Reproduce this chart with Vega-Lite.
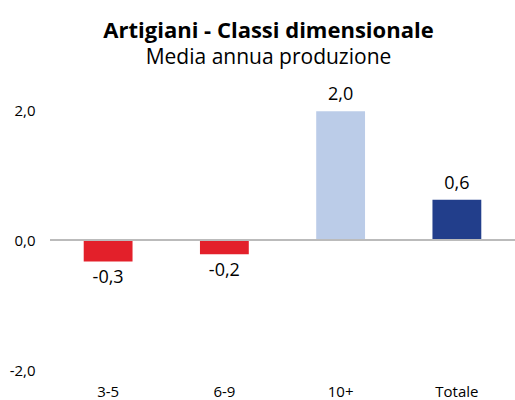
{
  "$schema": "https://vega.github.io/schema/vega-lite/v6.json",
  "width": 465,
  "height": 260,
  "autosize": {"type": "none"},
  "padding": {"left": 50, "top": 110, "right": 0, "bottom": 30},
  "background": "white",
  "config": {"view": {"stroke": null}},
  "title": {
    "text": "Artigiani - Classi dimensionale",
    "subtitle": "Media annua produzione",
    "anchor": "middle",
    "frame": "group",
    "dx": -14,
    "offset": 17,
    "font": "Open Sans",
    "fontSize": 22,
    "fontWeight": "bold",
    "color": "#000000",
    "subtitleFont": "Open Sans",
    "subtitleFontSize": 21,
    "subtitleColor": "#000000",
    "subtitlePadding": 4
  },
  "data": {
    "values": [
      {"classe": "3-5", "valore": -0.33, "label": "-0,3", "colore": "rosso"},
      {"classe": "6-9", "valore": -0.22, "label": "-0,2", "colore": "rosso"},
      {"classe": "10+", "valore": 1.98, "label": "2,0", "colore": "chiaro"},
      {"classe": "Totale", "valore": 0.62, "label": "0,6", "colore": "scuro"}
    ]
  },
  "encoding": {
    "x": {
      "field": "classe",
      "type": "nominal",
      "sort": null,
      "scale": {"paddingInner": 0.58, "paddingOuter": 0.29},
      "axis": {
        "title": null,
        "domain": false,
        "ticks": false,
        "labelAngle": 0,
        "labelFont": "Open Sans",
        "labelFontSize": 15,
        "labelColor": "#000000",
        "labelPadding": 14,
        "orient": "bottom"
      }
    }
  },
  "layer": [
    {
      "mark": {"type": "bar"},
      "encoding": {
        "y": {
          "field": "valore",
          "type": "quantitative",
          "scale": {"domain": [-2, 2], "nice": false},
          "axis": {
            "title": null,
            "values": [-2, 0, 2],
            "grid": false,
            "domain": false,
            "ticks": false,
            "labelPadding": 15,
            "labelFont": "Open Sans",
            "labelFontSize": 15,
            "labelColor": "#000000",
            "labelExpr": "replace(replace(format(datum.value, '.1f'), '.', ','), '\u2212', '-')"
          }
        },
        "color": {
          "field": "colore",
          "type": "nominal",
          "scale": {"domain": ["rosso", "chiaro", "scuro"], "range": ["#E3202A", "#BBCCE8", "#223E8B"]},
          "legend": null
        }
      }
    },
    {
      "mark": {"type": "rule", "color": "#BBBBBB", "strokeWidth": 2},
      "encoding": {"y": {"datum": 0, "type": "quantitative"}, "x": {"value": 0}, "x2": {"value": 465}}
    },
    {
      "transform": [{"filter": "datum.valore >= 0"}],
      "mark": {"type": "text", "baseline": "bottom", "dy": -7, "font": "Open Sans", "fontSize": 18, "color": "#000000"},
      "encoding": {"y": {"field": "valore", "type": "quantitative"}, "text": {"field": "label"}}
    },
    {
      "transform": [{"filter": "datum.valore < 0"}],
      "mark": {"type": "text", "baseline": "top", "dy": 8, "font": "Open Sans", "fontSize": 18, "color": "#000000"},
      "encoding": {"y": {"field": "valore", "type": "quantitative"}, "text": {"field": "label"}}
    }
  ]
}
